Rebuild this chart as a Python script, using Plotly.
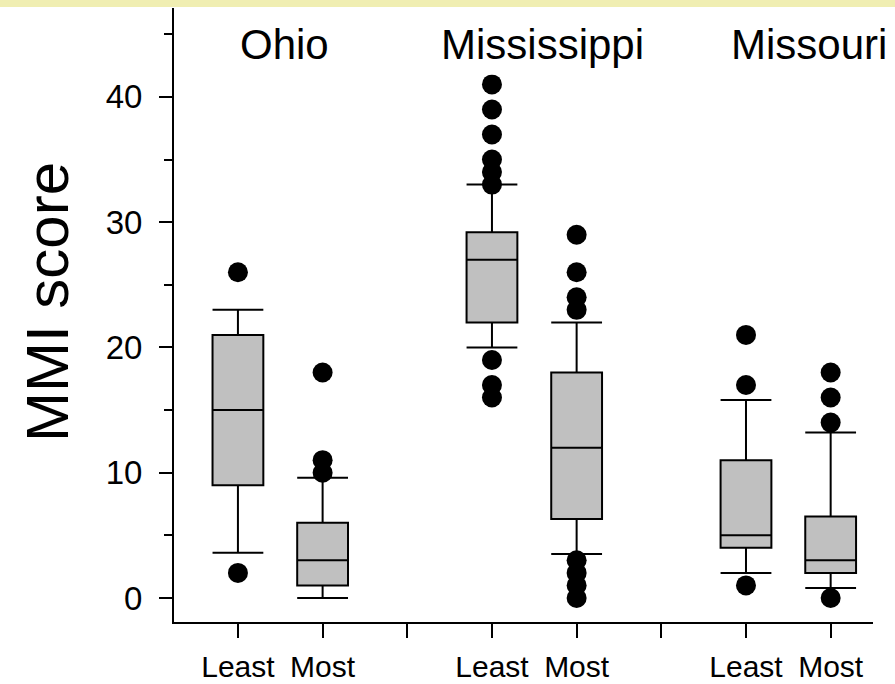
"""Box plots of MMI scores for least / most disturbed sites by river basin."""

import plotly.graph_objects as go

# ---- data ----
basins = ["Ohio", "Mississippi", "Missouri"]
conditions = ["Least", "Most"]

q1 = [9, 1, 22, 6.3, 4, 2]
median = [15, 3, 27, 12, 5, 3]
q3 = [21, 6, 29.2, 18, 11, 6.5]
lower_fence = [3.6, 0, 20, 3.5, 2, 0.8]
upper_fence = [23, 9.6, 33, 22, 15.8, 13.2]
outliers = [
    [26, 2],
    [18, 11, 10],
    [41, 39, 37, 35, 34, 33, 19, 17, 16],
    [29, 26, 24, 23, 3, 2, 1, 0],
    [21, 17, 1],
    [18, 16, 14, 0],
]

FONT = "Liberation Sans, Arial, sans-serif"
BOX_FILL = "#c0c0c0"

fig = go.Figure()

# one box per basin x condition; a blank slot separates the basins
positions = []
for b in range(len(basins)):
    for c in range(len(conditions)):
        positions.append(b * 3 + c + 1)

for i, pos in enumerate(positions):
    fig.add_trace(
        go.Box(
            x=[pos],
            q1=[q1[i]],
            median=[median[i]],
            q3=[q3[i]],
            lowerfence=[lower_fence[i]],
            upperfence=[upper_fence[i]],
            width=0.6,
            whiskerwidth=1,
            fillcolor=BOX_FILL,
            line=dict(color="black", width=2),
            boxpoints=False,
            showlegend=False,
            hoverinfo="skip",
        )
    )
    fig.add_trace(
        go.Scatter(
            x=[pos] * len(outliers[i]),
            y=outliers[i],
            mode="markers",
            marker=dict(color="black", size=20),
            showlegend=False,
            hoverinfo="skip",
        )
    )

# basin labels above each pair (white box trims the top outlier like the original)
title_x = [1.555, 4.6, 7.75]
for name, xpos in zip(basins, title_x):
    fig.add_annotation(
        x=xpos, y=44.2, xref="x", yref="y",
        text=name, showarrow=False,
        font=dict(family=FONT, size=42, color="black"),
        xanchor="center", yanchor="middle",
        bgcolor="white", borderpad=6,
    )

# y axis title
fig.add_annotation(
    x=(47 - 174) / 699, y=(622 - 302) / 614, xref="paper", yref="paper",
    text="MMI score", textangle=-90, showarrow=False,
    font=dict(family=FONT, size=60, color="black"),
    xanchor="center", yanchor="middle",
)

# pale yellow strip along the top edge
fig.add_shape(
    type="rect", xref="paper", yref="paper",
    x0=-0.3, x1=1.1, y0=1 + 1 / 614, y1=1 + 10 / 614,
    fillcolor="#f0eeb2", line_width=0, layer="above",
)

tick_vals = list(range(1, 9))
tick_text = ["Least", "Most", "", "Least", "Most", "", "Least", "Most"]

fig.update_layout(
    width=895,
    height=684,
    margin=dict(l=174, r=22, t=8, b=62),
    paper_bgcolor="white",
    plot_bgcolor="white",
    font=dict(family=FONT, size=30, color="black"),
    xaxis=dict(
        range=[0.245, 8.5],
        automargin=False,
        tickmode="array",
        tickvals=tick_vals,
        ticktext=tick_text,
        ticks="outside",
        ticklen=14,
        tickwidth=2,
        tickcolor="black",
        ticklabelstandoff=3,
        showline=True,
        linewidth=2,
        linecolor="black",
        showgrid=False,
        zeroline=False,
        tickfont=dict(family=FONT, size=30),
    ),
    yaxis=dict(
        range=[-1.92, 47.1],
        automargin=False,
        tickmode="array",
        tickvals=[0, 10, 20, 30, 40],
        ticks="outside",
        ticklen=13,
        tickwidth=2,
        tickcolor="black",
        ticklabelstandoff=10,
        minor=dict(tickvals=[5, 15, 25, 35, 45], ticks="outside",
                   ticklen=8, tickwidth=2, tickcolor="black"),
        showline=True,
        linewidth=2,
        linecolor="black",
        showgrid=False,
        zeroline=False,
        tickfont=dict(family=FONT, size=33),
    ),
)

# the page body has a default margin; drop it so the figure fills the window
fig.write_html(
    "out.html",
    config={"displayModeBar": False},
    post_script="document.body.style.margin = '0';",
)
